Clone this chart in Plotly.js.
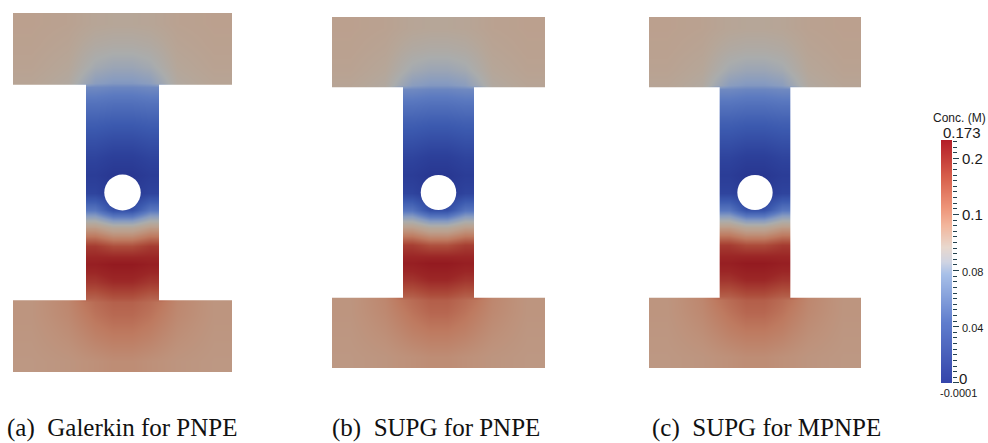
<!DOCTYPE html>
<html>
<head>
<meta charset="utf-8">
<script src="https://cdn.plot.ly/plotly-3.0.1.min.js"></script>
<style>
  html, body { margin: 0; padding: 0; background: #ffffff; }
  #chart { width: 988px; height: 443px; }
</style>
</head>
<body>
<div id="chart"></div>
<script>
// ---------------- DATA ----------------
// Sampling positions of the concentration field (domain units: width 6, height 10)
const xCenters = [0.5, 1.5, 1.95, 2.25, 2.75, 3.25, 3.75, 4.05, 4.5, 5.5];
const yCenters = [0.3, 1.0, 1.6, 1.95, 2.05, 2.5, 3.0, 3.5, 4.0, 4.5, 5.0, 5.5, 6.0, 6.5, 7.0, 7.5, 7.95, 8.05, 8.5, 9.1, 9.7];

// Concentration (M), rows from bottom (y=0.3) to top (y=9.7)
const concGalerkinPNPE = [
  [0.113, 0.115, 0.117, 0.118, 0.120, 0.120, 0.118, 0.117, 0.115, 0.113],
  [0.114, 0.119, 0.123, 0.126, 0.129, 0.129, 0.126, 0.123, 0.119, 0.114],
  [0.115, 0.122, 0.128, 0.132, 0.136, 0.136, 0.132, 0.128, 0.122, 0.115],
  [0.115, 0.123, 0.131, 0.135, 0.139, 0.139, 0.135, 0.131, 0.123, 0.115],
  [0.115, 0.123, 0.139, 0.139, 0.144, 0.144, 0.139, 0.139, 0.123, 0.115],
  [0.154, 0.154, 0.154, 0.154, 0.159, 0.159, 0.154, 0.154, 0.154, 0.154],
  [0.166, 0.166, 0.166, 0.166, 0.170, 0.170, 0.166, 0.166, 0.166, 0.166],
  [0.153, 0.153, 0.153, 0.153, 0.146, 0.146, 0.153, 0.153, 0.153, 0.153],
  [0.112, 0.112, 0.112, 0.112, 0.100, 0.100, 0.112, 0.112, 0.112, 0.112],
  [0.050, 0.050, 0.050, 0.050, 0.025, 0.025, 0.050, 0.050, 0.050, 0.050],
  [0.016, 0.016, 0.016, 0.016, 0.008, 0.008, 0.016, 0.016, 0.016, 0.016],
  [0.010, 0.010, 0.010, 0.010, 0.005, 0.005, 0.010, 0.010, 0.010, 0.010],
  [0.016, 0.016, 0.016, 0.016, 0.012, 0.012, 0.016, 0.016, 0.016, 0.016],
  [0.025, 0.025, 0.025, 0.025, 0.022, 0.022, 0.025, 0.025, 0.025, 0.025],
  [0.035, 0.035, 0.035, 0.035, 0.033, 0.033, 0.035, 0.035, 0.035, 0.035],
  [0.047, 0.047, 0.047, 0.047, 0.045, 0.045, 0.047, 0.047, 0.047, 0.047],
  [0.101, 0.094, 0.060, 0.060, 0.058, 0.058, 0.060, 0.060, 0.094, 0.101],
  [0.101, 0.094, 0.080, 0.071, 0.067, 0.067, 0.071, 0.080, 0.094, 0.101],
  [0.104, 0.098, 0.089, 0.083, 0.079, 0.079, 0.083, 0.089, 0.098, 0.104],
  [0.106, 0.102, 0.096, 0.093, 0.091, 0.091, 0.093, 0.096, 0.102, 0.106],
  [0.107, 0.105, 0.102, 0.100, 0.099, 0.099, 0.100, 0.102, 0.105, 0.107]
];

const concSupgPNPE = [
  [0.113, 0.115, 0.117, 0.118, 0.120, 0.120, 0.118, 0.117, 0.115, 0.113],
  [0.114, 0.119, 0.123, 0.126, 0.129, 0.129, 0.126, 0.123, 0.119, 0.114],
  [0.115, 0.122, 0.128, 0.132, 0.137, 0.137, 0.132, 0.128, 0.122, 0.115],
  [0.115, 0.123, 0.131, 0.135, 0.140, 0.140, 0.135, 0.131, 0.123, 0.115],
  [0.115, 0.123, 0.140, 0.140, 0.145, 0.145, 0.140, 0.140, 0.123, 0.115],
  [0.155, 0.155, 0.155, 0.155, 0.160, 0.160, 0.155, 0.155, 0.155, 0.155],
  [0.166, 0.166, 0.166, 0.166, 0.170, 0.170, 0.166, 0.166, 0.166, 0.166],
  [0.152, 0.152, 0.152, 0.152, 0.145, 0.145, 0.152, 0.152, 0.152, 0.152],
  [0.110, 0.110, 0.110, 0.110, 0.098, 0.098, 0.110, 0.110, 0.110, 0.110],
  [0.048, 0.048, 0.048, 0.048, 0.024, 0.024, 0.048, 0.048, 0.048, 0.048],
  [0.016, 0.016, 0.016, 0.016, 0.008, 0.008, 0.016, 0.016, 0.016, 0.016],
  [0.010, 0.010, 0.010, 0.010, 0.005, 0.005, 0.010, 0.010, 0.010, 0.010],
  [0.016, 0.016, 0.016, 0.016, 0.012, 0.012, 0.016, 0.016, 0.016, 0.016],
  [0.025, 0.025, 0.025, 0.025, 0.022, 0.022, 0.025, 0.025, 0.025, 0.025],
  [0.035, 0.035, 0.035, 0.035, 0.033, 0.033, 0.035, 0.035, 0.035, 0.035],
  [0.047, 0.047, 0.047, 0.047, 0.045, 0.045, 0.047, 0.047, 0.047, 0.047],
  [0.101, 0.094, 0.060, 0.060, 0.058, 0.058, 0.060, 0.060, 0.094, 0.101],
  [0.101, 0.094, 0.080, 0.071, 0.067, 0.067, 0.071, 0.080, 0.094, 0.101],
  [0.104, 0.098, 0.089, 0.083, 0.079, 0.079, 0.083, 0.089, 0.098, 0.104],
  [0.106, 0.102, 0.096, 0.093, 0.091, 0.091, 0.093, 0.096, 0.102, 0.106],
  [0.107, 0.105, 0.102, 0.100, 0.099, 0.099, 0.100, 0.102, 0.105, 0.107]
];

const concSupgMPNPE = [
  [0.113, 0.115, 0.117, 0.118, 0.120, 0.120, 0.118, 0.117, 0.115, 0.113],
  [0.114, 0.119, 0.123, 0.126, 0.129, 0.129, 0.126, 0.123, 0.119, 0.114],
  [0.115, 0.122, 0.128, 0.132, 0.137, 0.137, 0.132, 0.128, 0.122, 0.115],
  [0.115, 0.123, 0.131, 0.135, 0.140, 0.140, 0.135, 0.131, 0.123, 0.115],
  [0.115, 0.123, 0.140, 0.140, 0.145, 0.145, 0.140, 0.140, 0.123, 0.115],
  [0.155, 0.155, 0.155, 0.155, 0.160, 0.160, 0.155, 0.155, 0.155, 0.155],
  [0.166, 0.166, 0.166, 0.166, 0.170, 0.170, 0.166, 0.166, 0.166, 0.166],
  [0.153, 0.153, 0.153, 0.153, 0.147, 0.147, 0.153, 0.153, 0.153, 0.153],
  [0.113, 0.113, 0.113, 0.113, 0.102, 0.102, 0.113, 0.113, 0.113, 0.113],
  [0.050, 0.050, 0.050, 0.050, 0.026, 0.026, 0.050, 0.050, 0.050, 0.050],
  [0.016, 0.016, 0.016, 0.016, 0.008, 0.008, 0.016, 0.016, 0.016, 0.016],
  [0.010, 0.010, 0.010, 0.010, 0.005, 0.005, 0.010, 0.010, 0.010, 0.010],
  [0.016, 0.016, 0.016, 0.016, 0.012, 0.012, 0.016, 0.016, 0.016, 0.016],
  [0.025, 0.025, 0.025, 0.025, 0.022, 0.022, 0.025, 0.025, 0.025, 0.025],
  [0.035, 0.035, 0.035, 0.035, 0.033, 0.033, 0.035, 0.035, 0.035, 0.035],
  [0.047, 0.047, 0.047, 0.047, 0.045, 0.045, 0.047, 0.047, 0.047, 0.047],
  [0.101, 0.094, 0.060, 0.060, 0.058, 0.058, 0.060, 0.060, 0.094, 0.101],
  [0.101, 0.094, 0.080, 0.071, 0.067, 0.067, 0.071, 0.080, 0.094, 0.101],
  [0.104, 0.098, 0.089, 0.083, 0.079, 0.079, 0.083, 0.089, 0.098, 0.104],
  [0.106, 0.102, 0.096, 0.093, 0.091, 0.091, 0.093, 0.096, 0.102, 0.106],
  [0.107, 0.105, 0.102, 0.100, 0.099, 0.099, 0.100, 0.102, 0.105, 0.107]
];

const panelCaptions = ['(a)  Galerkin for PNPE', '(b)  SUPG for PNPE', '(c)  SUPG for MPNPE'];

const colorbarLevels = [-0.0001, 0.173];
const colorbarTickVals = [0, 0.04, 0.08, 0.12, 0.16];
const colorbarTickText = ['', '0.04', '0.08', '0.1', '0.2'];
const colorbarZeroLabel = '0';
const colorbarTitle = 'Conc. (M)';
const colorbarTopLabel = '0.173';
const colorbarBottomLabel = '-0.0001';

// ---------------- GEOMETRY / STYLE ----------------
const W = 988, H = 443;
const geom = { width: 6, height: 10, stemX0: 2, stemX1: 4, barLow: 2, barHigh: 8, holeCx: 3, holeCy: 5, holeR: 0.5 };

// panel pixel boxes [left, right, top, bottom]
const panelBoxes = [[13, 232, 13, 372], [332, 545, 17, 368], [649, 861, 17, 368]];
const captionPos = [[5, 428], [330, 428], [650, 428]];
const colorbarBox = [941, 952, 140, 383];

const fieldScale = [
  [0.00, 'rgb(38,50,140)'],
  [0.08, 'rgb(45,65,155)'],
  [0.18, 'rgb(60,90,175)'],
  [0.30, 'rgb(92,122,192)'],
  [0.40, 'rgb(135,155,192)'],
  [0.50, 'rgb(170,172,172)'],
  [0.57, 'rgb(182,166,152)'],
  [0.62, 'rgb(187,160,142)'],
  [0.68, 'rgb(190,145,122)'],
  [0.75, 'rgb(190,122,96)'],
  [0.85, 'rgb(172,75,58)'],
  [0.93, 'rgb(155,38,38)'],
  [1.00, 'rgb(145,22,30)']
];
const barScale = [
  [0.00, 'rgb(52,68,170)'],
  [0.25, 'rgb(95,125,205)'],
  [0.45, 'rgb(168,192,232)'],
  [0.50, 'rgb(208,212,226)'],
  [0.56, 'rgb(232,216,206)'],
  [0.65, 'rgb(242,182,156)'],
  [0.72, 'rgb(238,150,122)'],
  [0.85, 'rgb(215,95,75)'],
  [1.00, 'rgb(180,30,40)']
];

const px2x = p => p / W;
const px2y = p => 1 - p / H;
const sans = 'Liberation Sans, Arial, sans-serif';

const fields = [concGalerkinPNPE, concSupgPNPE, concSupgMPNPE];
const traces = [];
const layout = {
  width: W, height: H,
  margin: { l: 0, r: 0, t: 0, b: 0 },
  paper_bgcolor: '#ffffff', plot_bgcolor: '#ffffff',
  showlegend: false,
  shapes: [], annotations: []
};

fields.forEach((z, i) => {
  const s = i === 0 ? '' : String(i + 1);
  const box = panelBoxes[i];
  traces.push({
    type: 'heatmap', x: xCenters, y: yCenters, z: z,
    xaxis: 'x' + s, yaxis: 'y' + s,
    colorscale: fieldScale, zmin: 0, zmax: 0.173,
    zsmooth: 'best', showscale: false, hoverinfo: 'skip'
  });
  const ax = { visible: false, showgrid: false, zeroline: false, fixedrange: true };
  layout['xaxis' + s] = Object.assign({}, ax, { domain: [px2x(box[0]), px2x(box[1])], range: [0, geom.width], anchor: 'y' + s });
  layout['yaxis' + s] = Object.assign({}, ax, { domain: [px2y(box[3]), px2y(box[2])], range: [0, geom.height], anchor: 'x' + s });
  const ref = { xref: 'x' + s, yref: 'y' + s, fillcolor: '#ffffff', line: { width: 0 }, layer: 'above' };
  layout.shapes.push(Object.assign({ type: 'rect', x0: -0.2, x1: geom.stemX0, y0: geom.barLow, y1: geom.barHigh }, ref));
  layout.shapes.push(Object.assign({ type: 'rect', x0: geom.stemX1, x1: geom.width + 0.2, y0: geom.barLow, y1: geom.barHigh }, ref));
  layout.shapes.push(Object.assign({ type: 'circle', x0: geom.holeCx - geom.holeR, x1: geom.holeCx + geom.holeR, y0: geom.holeCy - geom.holeR, y1: geom.holeCy + geom.holeR }, ref));
  layout.annotations.push({
    xref: 'paper', yref: 'paper', x: px2x(captionPos[i][0]), y: px2y(captionPos[i][1]),
    xanchor: 'left', yanchor: 'middle', showarrow: false, text: panelCaptions[i],
    font: { family: 'Liberation Serif', size: 25, color: '#111111' }
  });
});

// Colour bar drawn as its own small heatmap with a right-hand axis
traces.push({
  type: 'heatmap', x: [0, 1], y: colorbarLevels,
  z: colorbarLevels.map(v => [v, v]),
  xaxis: 'x4', yaxis: 'y4', colorscale: barScale,
  zmin: colorbarLevels[0], zmax: colorbarLevels[1],
  zsmooth: 'best', showscale: false, hoverinfo: 'skip'
});
layout.xaxis4 = { domain: [px2x(colorbarBox[0]), px2x(colorbarBox[1])], range: [0, 1], visible: false, anchor: 'y4', fixedrange: true };
layout.yaxis4 = {
  domain: [px2y(colorbarBox[3]), px2y(colorbarBox[2])], range: colorbarLevels, anchor: 'x4', side: 'right',
  showgrid: false, zeroline: false, showline: false, fixedrange: true,
  tickmode: 'array', tickvals: colorbarTickVals,
  ticktext: colorbarTickText.map(t => (t === '0.04' || t === '0.08') ? '<span style="font-size:11px">' + t + '</span>' : t),
  ticks: 'outside', ticklen: 6, tickwidth: 1, tickcolor: '#24424f',
  tickfont: { family: sans, size: 15, color: '#1a1a1a' },
  minor: { tickmode: 'linear', tick0: 0, dtick: 0.004, ticks: 'outside', ticklen: 4, tickwidth: 1, tickcolor: '#24424f', showgrid: false }
};
layout.annotations.push({
  xref: 'paper', yref: 'paper', x: px2x(959), y: px2y(118), xanchor: 'center', yanchor: 'middle',
  showarrow: false, text: colorbarTitle, font: { family: sans, size: 12, color: '#1a1a1a' }
});
layout.annotations.push({
  xref: 'paper', yref: 'paper', x: px2x(941), y: px2y(132), xanchor: 'left', yanchor: 'middle',
  showarrow: false, text: colorbarTopLabel, font: { family: sans, size: 15, color: '#1a1a1a' }
});
layout.annotations.push({
  xref: 'paper', yref: 'paper', x: px2x(957), y: px2y(378), xanchor: 'left', yanchor: 'middle',
  showarrow: false, text: colorbarZeroLabel, font: { family: sans, size: 15, color: '#1a1a1a' }
});
layout.annotations.push({
  xref: 'paper', yref: 'paper', x: px2x(958), y: px2y(393), xanchor: 'center', yanchor: 'middle',
  showarrow: false, text: colorbarBottomLabel, font: { family: sans, size: 11, color: '#1a1a1a' }
});

Plotly.newPlot('chart', traces, layout, { staticPlot: true, displayModeBar: false });
</script>
</body>
</html>
